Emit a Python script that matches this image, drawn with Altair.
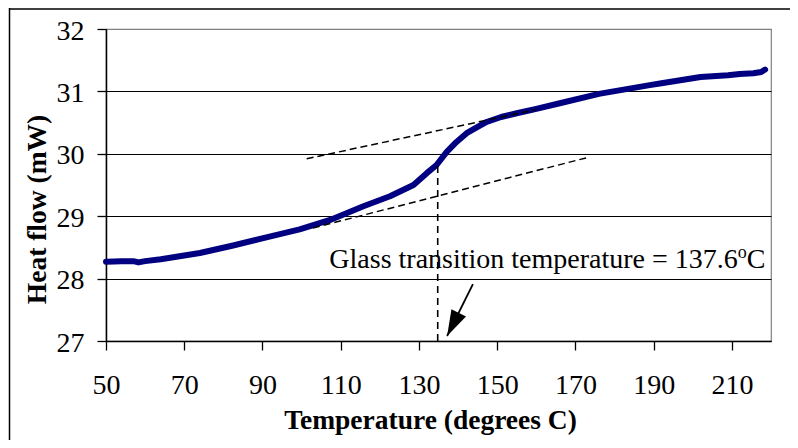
import altair as alt
import pandas as pd

# ---- data ----
temps = [50, 54, 57, 58.3, 60, 64, 68, 74, 82.5, 91, 99.5, 107.3, 115.8, 122.6,
         128.6, 132, 134.5, 137.1, 139.6, 142.2, 145, 147.3, 151, 155, 160, 166,
         176, 189, 192, 202, 209, 212, 215.5, 217.5, 218.5]
heat = [28.27, 28.28, 28.28, 28.26, 28.28, 28.31, 28.35, 28.41, 28.53, 28.66,
        28.79, 28.94, 29.16, 29.32, 29.50, 29.69, 29.82, 30.03, 30.19, 30.33,
        30.43, 30.51, 30.59, 30.65, 30.72, 30.81, 30.96, 31.10, 31.13, 31.23,
        31.26, 31.28, 31.29, 31.31, 31.35]

x_ticks = [50, 70, 90, 110, 130, 150, 170, 190, 210]
y_ticks = [27, 28, 29, 30, 31, 32]

upper_T = [101.3, 160.0]
upper_HF = [29.92, 30.71]
lower_T = [102.9, 173.7]
lower_HF = [28.81, 29.95]

tg_T = [134.8]
tg_low = [27.0]
tg_high = [29.85]

arrow_T = [143.8]
arrow_HF = [27.913]
arrow_T2 = [137.2]
arrow_HF2 = [27.08]

label_T = [218.6]
label_HF = [28.165]
label_main = "Glass transition temperature = 137.6"
label_sup = "o"
label_unit = "C"

FONT = "Liberation Serif"

curve_df = pd.DataFrame({"T": temps, "HF": heat})
upper_df = pd.DataFrame({"T": upper_T, "HF": upper_HF})
lower_df = pd.DataFrame({"T": lower_T, "HF": lower_HF})
tg_df = pd.DataFrame({"T": tg_T, "lo": tg_low, "hi": tg_high})
arrow_df = pd.DataFrame({"T": arrow_T, "HF": arrow_HF, "T2": arrow_T2, "HF2": arrow_HF2})
label_df = pd.DataFrame({"T": label_T, "HF": label_HF})

xscale = alt.Scale(domain=[50, 220], nice=False, zero=False)
yscale = alt.Scale(domain=[27, 32], nice=False, zero=False)

x_axis = alt.Axis(
    values=x_ticks, format="d", title="Temperature (degrees C)", grid=False,
    tickSize=9, tickColor="black", tickWidth=1.3,
    domainColor="black", domainWidth=1.5,
    labelFont=FONT, labelFontSize=28, labelColor="black",
    labelBaseline="alphabetic", labelPadding=43, labelFlush=False,
    titleFont=FONT, titleFontSize=27.5, titleFontWeight="bold", titleColor="black",
    titleX=324, titleY=87, titleBaseline="alphabetic", titleAlign="center",
)
y_axis = alt.Axis(
    values=y_ticks, format="d", title="Heat flow (mW)", grid=True,
    gridColor={"condition": {"test": "datum.value === 32", "value": "#808080"},
               "value": "#000000"},
    gridWidth=1.2,
    tickSize=9, tickColor="black", tickWidth=1.3,
    domainColor="black", domainWidth=1.5,
    labelFont=FONT, labelFontSize=28, labelColor="black",
    labelPadding=13, labelOffset=2, labelFlush=False,
    titleFont=FONT, titleFontSize=27.5, titleFontWeight="bold", titleColor="black",
    titleX=-61, titleY=180, titleAngle=270, titleBaseline="alphabetic",
    titleAlign="center",
)

curve = alt.Chart(curve_df).mark_line(
    color="#000080", strokeWidth=6, strokeCap="round", strokeJoin="round"
).encode(
    x=alt.X("T:Q", scale=xscale, axis=x_axis),
    y=alt.Y("HF:Q", scale=yscale, axis=y_axis),
)

upper = alt.Chart(upper_df).mark_line(
    color="black", strokeWidth=1.5, strokeDash=[7, 4]
).encode(x=alt.X("T:Q", scale=xscale), y=alt.Y("HF:Q", scale=yscale))

lower = alt.Chart(lower_df).mark_line(
    color="black", strokeWidth=1.5, strokeDash=[7, 4]
).encode(x=alt.X("T:Q", scale=xscale), y=alt.Y("HF:Q", scale=yscale))

tg_line = alt.Chart(tg_df).mark_rule(
    color="black", strokeWidth=1.6, strokeDash=[7, 5]
).encode(x=alt.X("T:Q", scale=xscale), y=alt.Y("lo:Q", scale=yscale), y2="hi:Q")

arrow_line = alt.Chart(arrow_df).mark_rule(color="black", strokeWidth=1.8).encode(
    x=alt.X("T:Q", scale=xscale), y=alt.Y("HF:Q", scale=yscale), x2="T2:Q", y2="HF2:Q"
)
arrow_head = alt.Chart(arrow_df).mark_point(
    shape="M0,0L-1.1,3.5L1.1,3.5Z", filled=True, size=220, angle=206.6,
    color="black", opacity=1, strokeWidth=0
).encode(x=alt.X("T2:Q", scale=xscale), y=alt.Y("HF2:Q", scale=yscale))

txt_unit = alt.Chart(label_df).mark_text(
    text=label_unit, font=FONT, fontSize=28, align="right", baseline="alphabetic",
    color="black"
).encode(x=alt.X("T:Q", scale=xscale), y=alt.Y("HF:Q", scale=yscale))
txt_sup = alt.Chart(label_df).mark_text(
    text=label_sup, font=FONT, fontSize=18, align="right", baseline="alphabetic",
    color="black", dx=-18.7, dy=-10
).encode(x=alt.X("T:Q", scale=xscale), y=alt.Y("HF:Q", scale=yscale))
txt_main = alt.Chart(label_df).mark_text(
    text=label_main, font=FONT, fontSize=28, align="right", baseline="alphabetic",
    color="black", dx=-27.7
).encode(x=alt.X("T:Q", scale=xscale), y=alt.Y("HF:Q", scale=yscale))

# outer chart frame (left and top edges)
frame_left = alt.Chart(label_df).mark_rule(color="black", strokeWidth=1.5).encode(
    x=alt.value(-96.5), y=alt.value(-21), y2=alt.value(420)
)
frame_top = alt.Chart(label_df).mark_rule(color="black", strokeWidth=1.5).encode(
    x=alt.value(-97), x2=alt.value(700), y=alt.value(-20)
)

chart = alt.layer(
    curve, upper, lower, tg_line, arrow_line, arrow_head,
    txt_main, txt_sup, txt_unit, frame_left, frame_top
).properties(
    width=665, height=312,
    autosize=alt.AutoSizeParams(type="none"),
    padding={"left": 98, "top": 21, "right": 19, "bottom": 99},
    background="white",
).configure_view(stroke="#808080", strokeWidth=1.2)

chart.save("out.html", embed_options={"renderer": "svg", "actions": False})
